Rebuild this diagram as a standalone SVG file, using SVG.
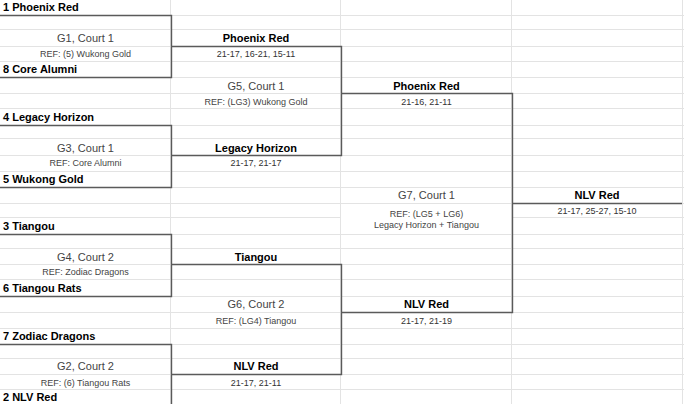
<svg xmlns="http://www.w3.org/2000/svg" width="684" height="404" viewBox="0 0 684 404">
<style>
text{font-family:"Liberation Sans",Arial,sans-serif}
.team{font-size:11px;font-weight:bold;fill:#000}
.win{font-size:11px;font-weight:bold;fill:#000;text-anchor:middle}
.game{font-size:11px;fill:#444;text-anchor:middle}
.ref{font-size:9px;fill:#444;text-anchor:middle}
.score{font-size:9px;fill:#333;text-anchor:middle}
.grid line{stroke:#e3e3e3;stroke-width:1}
.br{fill:none;stroke:#5a5a5a;stroke-width:1.4}
</style>
<rect width="684" height="404" fill="#fff"/>
<g class="grid">
<line x1="0" y1="15.5" x2="684" y2="15.5"/>
<line x1="0" y1="29.5" x2="684" y2="29.5"/>
<line x1="0" y1="46.5" x2="684" y2="46.5"/>
<line x1="0" y1="61.5" x2="684" y2="61.5"/>
<line x1="0" y1="77.5" x2="684" y2="77.5"/>
<line x1="0" y1="93.5" x2="684" y2="93.5"/>
<line x1="0" y1="108.5" x2="684" y2="108.5"/>
<line x1="0" y1="125.5" x2="684" y2="125.5"/>
<line x1="0" y1="138.5" x2="684" y2="138.5"/>
<line x1="0" y1="155.5" x2="684" y2="155.5"/>
<line x1="0" y1="171.5" x2="684" y2="171.5"/>
<line x1="0" y1="187.5" x2="684" y2="187.5"/>
<line x1="0" y1="203.5" x2="684" y2="203.5"/>
<line x1="0" y1="217.5" x2="341" y2="217.5"/>
<line x1="512" y1="217.5" x2="684" y2="217.5"/>
<line x1="0" y1="234.5" x2="684" y2="234.5"/>
<line x1="0" y1="248.5" x2="684" y2="248.5"/>
<line x1="0" y1="264.5" x2="684" y2="264.5"/>
<line x1="0" y1="279.5" x2="684" y2="279.5"/>
<line x1="0" y1="296.5" x2="684" y2="296.5"/>
<line x1="0" y1="312.5" x2="684" y2="312.5"/>
<line x1="0" y1="328.5" x2="684" y2="328.5"/>
<line x1="0" y1="344.5" x2="684" y2="344.5"/>
<line x1="0" y1="358.5" x2="684" y2="358.5"/>
<line x1="0" y1="374.5" x2="684" y2="374.5"/>
<line x1="0" y1="389.5" x2="684" y2="389.5"/>
<line x1="170.5" y1="0" x2="170.5" y2="404"/>
<line x1="340.5" y1="0" x2="340.5" y2="404"/>
<line x1="511.5" y1="0" x2="511.5" y2="404"/>
<line x1="682.5" y1="0" x2="682.5" y2="404"/>
</g>
<g id="connectors" class="br">
<path d="M0 15.5H171.5V77.5H0"/>
<path d="M0 125.5H171.5V187.5H0"/>
<path d="M0 234.5H171.5V296.5H0"/>
<path d="M0 344.5H171.5V404"/>
<path d="M171.5 46.5H341.5V155.5H171.5"/>
<path d="M171.5 264.5H341.5V374.5H171.5"/>
<path d="M341.5 93.5H512.5V312.5H341.5"/>
<path d="M512.5 203.5H682"/>
</g>
<g id="seeds">
<text class="team" x="3" y="11">1 Phoenix Red</text>
<text class="team" x="3" y="73">8 Core Alumni</text>
<text class="team" x="3" y="121">4 Legacy Horizon</text>
<text class="team" x="3" y="182.5">5 Wukong Gold</text>
<text class="team" x="3" y="230">3 Tiangou</text>
<text class="team" x="3" y="292">6 Tiangou Rats</text>
<text class="team" x="3" y="340">7 Zodiac Dragons</text>
<text class="team" x="3" y="400.5">2 NLV Red</text>
</g>
<g id="g1">
<text class="game" x="85.5" y="42">G1, Court 1</text>
<text class="ref" x="85.5" y="57">REF: (5) Wukong Gold</text>
<text class="win" x="256" y="42">Phoenix Red</text>
<text class="score" x="256" y="57">21-17, 16-21, 15-11</text>
</g>
<g id="g3">
<text class="game" x="85.5" y="151.5">G3, Court 1</text>
<text class="ref" x="85.5" y="166">REF: Core Alumni</text>
<text class="win" x="256" y="151.5">Legacy Horizon</text>
<text class="score" x="256" y="166">21-17, 21-17</text>
</g>
<g id="g4">
<text class="game" x="85.5" y="260.5">G4, Court 2</text>
<text class="ref" x="85.5" y="275">REF: Zodiac Dragons</text>
<text class="win" x="256" y="260.5">Tiangou</text>
</g>
<g id="g2">
<text class="game" x="85.5" y="370">G2, Court 2</text>
<text class="ref" x="85.5" y="385.5">REF: (6) Tiangou Rats</text>
<text class="win" x="256" y="370">NLV Red</text>
<text class="score" x="256" y="385.5">21-17, 21-11</text>
</g>
<g id="g5">
<text class="game" x="256" y="89.5">G5, Court 1</text>
<text class="ref" x="256" y="104.5">REF: (LG3) Wukong Gold</text>
<text class="win" x="426.5" y="89.5">Phoenix Red</text>
<text class="score" x="426.5" y="104.5">21-16, 21-11</text>
</g>
<g id="g6">
<text class="game" x="256" y="308">G6, Court 2</text>
<text class="ref" x="256" y="324">REF: (LG4) Tiangou</text>
<text class="win" x="426.5" y="308">NLV Red</text>
<text class="score" x="426.5" y="324">21-17, 21-19</text>
</g>
<g id="g7">
<text class="game" x="426.5" y="199">G7, Court 1</text>
<text class="ref" x="426.5" y="216.5">REF: (LG5 + LG6)</text>
<text class="ref" x="426.5" y="227.5">Legacy Horizon + Tiangou</text>
<text class="win" x="597" y="199">NLV Red</text>
<text class="score" x="597" y="214">21-17, 25-27, 15-10</text>
</g>
</svg>
